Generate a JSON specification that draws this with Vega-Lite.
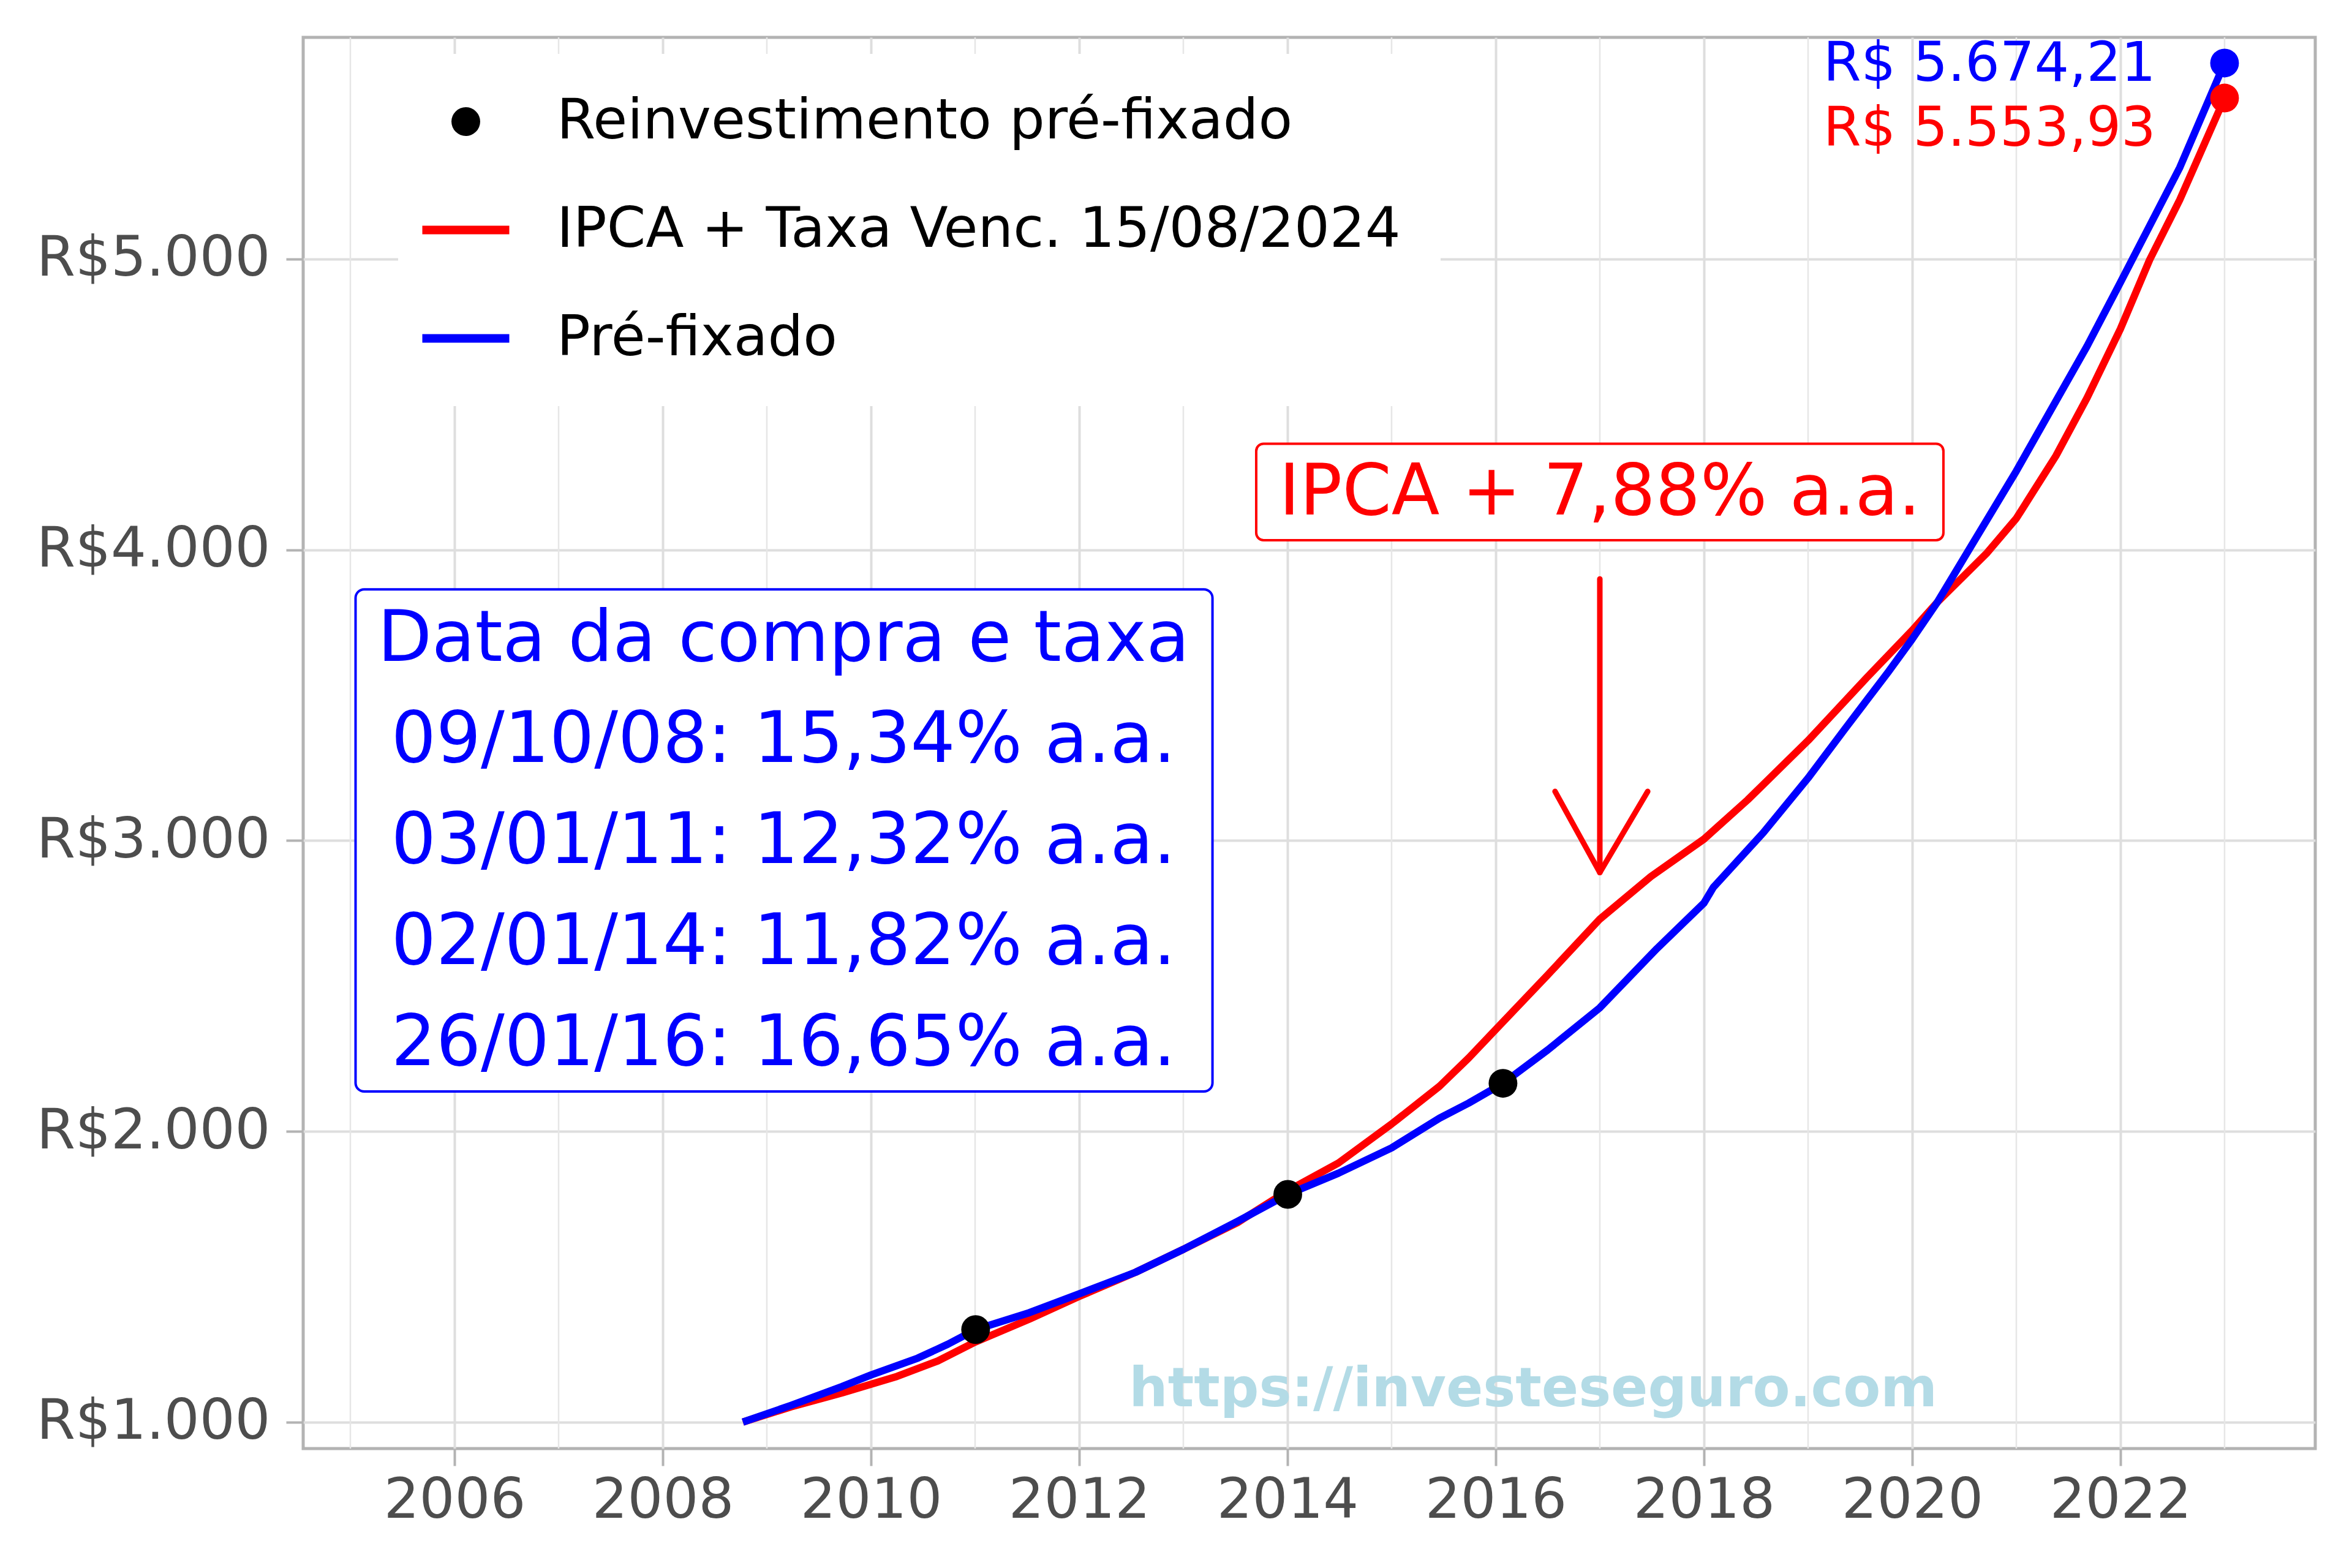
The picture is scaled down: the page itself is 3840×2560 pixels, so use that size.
{
  "$schema": "https://vega.github.io/schema/vega-lite/v6.json",
  "width": 3285,
  "height": 2304,
  "autosize": {"type": "none"},
  "padding": {"left": 495, "top": 61, "right": 60, "bottom": 195},
  "background": "white",
  "config": {
    "view": {"stroke": "#b3b3b3", "strokeWidth": 5},
    "font": "DejaVu Sans",
    "axis": {
      "labelFont": "DejaVu Sans",
      "labelFontSize": 91,
      "labelColor": "#4d4d4d",
      "labelLimit": 0,
      "tickColor": "#b3b3b3",
      "tickWidth": 4,
      "tickSize": 28,
      "labelPadding": 26,
      "gridColor": "#dedede",
      "gridWidth": 4,
      "domain": false
    }
  },
  "datasets": {
    "series": [
      {"serie": "Pré-fixado", "ano": 2008.77, "valor": 1000},
      {"serie": "Pré-fixado", "ano": 2009.23, "valor": 1057},
      {"serie": "Pré-fixado", "ano": 2009.72, "valor": 1122},
      {"serie": "Pré-fixado", "ano": 2010.0, "valor": 1162},
      {"serie": "Pré-fixado", "ano": 2010.45, "valor": 1220},
      {"serie": "Pré-fixado", "ano": 2010.74, "valor": 1268},
      {"serie": "Pré-fixado", "ano": 2011.005, "valor": 1318},
      {"serie": "Pré-fixado", "ano": 2011.52, "valor": 1376},
      {"serie": "Pré-fixado", "ano": 2012.0, "valor": 1441},
      {"serie": "Pré-fixado", "ano": 2012.54, "valor": 1515},
      {"serie": "Pré-fixado", "ano": 2013.0, "valor": 1594},
      {"serie": "Pré-fixado", "ano": 2013.52, "valor": 1690},
      {"serie": "Pré-fixado", "ano": 2014.003, "valor": 1783},
      {"serie": "Pré-fixado", "ano": 2014.49, "valor": 1856},
      {"serie": "Pré-fixado", "ano": 2015.0, "valor": 1943},
      {"serie": "Pré-fixado", "ano": 2015.46, "valor": 2045},
      {"serie": "Pré-fixado", "ano": 2015.74, "valor": 2097},
      {"serie": "Pré-fixado", "ano": 2016.07, "valor": 2165},
      {"serie": "Pré-fixado", "ano": 2016.5, "valor": 2280},
      {"serie": "Pré-fixado", "ano": 2017.0, "valor": 2425},
      {"serie": "Pré-fixado", "ano": 2017.55, "valor": 2629},
      {"serie": "Pré-fixado", "ano": 2018.0, "valor": 2785},
      {"serie": "Pré-fixado", "ano": 2018.09, "valor": 2839},
      {"serie": "Pré-fixado", "ano": 2018.57, "valor": 3027},
      {"serie": "Pré-fixado", "ano": 2019.0, "valor": 3215},
      {"serie": "Pré-fixado", "ano": 2019.35, "valor": 3382},
      {"serie": "Pré-fixado", "ano": 2019.77, "valor": 3580},
      {"serie": "Pré-fixado", "ano": 2020.0, "valor": 3693},
      {"serie": "Pré-fixado", "ano": 2020.24, "valor": 3819},
      {"serie": "Pré-fixado", "ano": 2021.0, "valor": 4271},
      {"serie": "Pré-fixado", "ano": 2021.68, "valor": 4701},
      {"serie": "Pré-fixado", "ano": 2022.0, "valor": 4920},
      {"serie": "Pré-fixado", "ano": 2022.57, "valor": 5315},
      {"serie": "Pré-fixado", "ano": 2023.0, "valor": 5674.21},
      {"serie": "IPCA + Taxa Venc. 15/08/2024", "ano": 2008.77, "valor": 1000},
      {"serie": "IPCA + Taxa Venc. 15/08/2024", "ano": 2009.23, "valor": 1052},
      {"serie": "IPCA + Taxa Venc. 15/08/2024", "ano": 2009.72, "valor": 1100},
      {"serie": "IPCA + Taxa Venc. 15/08/2024", "ano": 2010.25, "valor": 1157},
      {"serie": "IPCA + Taxa Venc. 15/08/2024", "ano": 2010.64, "valor": 1210},
      {"serie": "IPCA + Taxa Venc. 15/08/2024", "ano": 2011.0, "valor": 1275},
      {"serie": "IPCA + Taxa Venc. 15/08/2024", "ano": 2011.52, "valor": 1354},
      {"serie": "IPCA + Taxa Venc. 15/08/2024", "ano": 2012.0, "valor": 1432},
      {"serie": "IPCA + Taxa Venc. 15/08/2024", "ano": 2012.54, "valor": 1515},
      {"serie": "IPCA + Taxa Venc. 15/08/2024", "ano": 2013.0, "valor": 1594},
      {"serie": "IPCA + Taxa Venc. 15/08/2024", "ano": 2013.52, "valor": 1686},
      {"serie": "IPCA + Taxa Venc. 15/08/2024", "ano": 2014.0, "valor": 1795},
      {"serie": "IPCA + Taxa Venc. 15/08/2024", "ano": 2014.49, "valor": 1891},
      {"serie": "IPCA + Taxa Venc. 15/08/2024", "ano": 2015.0, "valor": 2025},
      {"serie": "IPCA + Taxa Venc. 15/08/2024", "ano": 2015.46, "valor": 2155},
      {"serie": "IPCA + Taxa Venc. 15/08/2024", "ano": 2015.74, "valor": 2252},
      {"serie": "IPCA + Taxa Venc. 15/08/2024", "ano": 2016.0, "valor": 2350},
      {"serie": "IPCA + Taxa Venc. 15/08/2024", "ano": 2016.5, "valor": 2538},
      {"serie": "IPCA + Taxa Venc. 15/08/2024", "ano": 2017.0, "valor": 2730},
      {"serie": "IPCA + Taxa Venc. 15/08/2024", "ano": 2017.49, "valor": 2876},
      {"serie": "IPCA + Taxa Venc. 15/08/2024", "ano": 2018.0, "valor": 3005},
      {"serie": "IPCA + Taxa Venc. 15/08/2024", "ano": 2018.42, "valor": 3140},
      {"serie": "IPCA + Taxa Venc. 15/08/2024", "ano": 2019.0, "valor": 3344},
      {"serie": "IPCA + Taxa Venc. 15/08/2024", "ano": 2019.56, "valor": 3559},
      {"serie": "IPCA + Taxa Venc. 15/08/2024", "ano": 2020.0, "valor": 3723},
      {"serie": "IPCA + Taxa Venc. 15/08/2024", "ano": 2020.24, "valor": 3819},
      {"serie": "IPCA + Taxa Venc. 15/08/2024", "ano": 2020.72, "valor": 3990},
      {"serie": "IPCA + Taxa Venc. 15/08/2024", "ano": 2021.0, "valor": 4108},
      {"serie": "IPCA + Taxa Venc. 15/08/2024", "ano": 2021.38, "valor": 4323},
      {"serie": "IPCA + Taxa Venc. 15/08/2024", "ano": 2021.68, "valor": 4523},
      {"serie": "IPCA + Taxa Venc. 15/08/2024", "ano": 2022.0, "valor": 4760},
      {"serie": "IPCA + Taxa Venc. 15/08/2024", "ano": 2022.28, "valor": 4997},
      {"serie": "IPCA + Taxa Venc. 15/08/2024", "ano": 2022.57, "valor": 5204},
      {"serie": "IPCA + Taxa Venc. 15/08/2024", "ano": 2023.0, "valor": 5553.93}
    ],
    "reinvest": [
      {"serie": "Reinvestimento pré-fixado", "ano": 2011.005, "valor": 1318},
      {"serie": "Reinvestimento pré-fixado", "ano": 2014.003, "valor": 1783},
      {"serie": "Reinvestimento pré-fixado", "ano": 2016.07, "valor": 2165}
    ],
    "final": [
      {"serie": "IPCA + Taxa Venc. 15/08/2024", "ano": 2023.0, "valor": 5553.93},
      {"serie": "Pré-fixado", "ano": 2023.0, "valor": 5674.21}
    ],
    "rotulos": [
      {"serie": "Pré-fixado", "ano": 2022.34, "valor": 5670, "texto": "R$ 5.674,21"},
      {"serie": "IPCA + Taxa Venc. 15/08/2024", "ano": 2022.34, "valor": 5447, "texto": "R$ 5.553,93"}
    ],
    "menores": [
      {"ano": 2005}, {"ano": 2007}, {"ano": 2009}, {"ano": 2011}, {"ano": 2013},
      {"ano": 2015}, {"ano": 2017}, {"ano": 2019}, {"ano": 2021}, {"ano": 2023}
    ],
    "caixaIpca": [{"ano": 2013.70, "ano2": 2020.30, "valor": 4033, "valor2": 4365}],
    "textoIpca": [{"ano": 2017.0, "valor": 4196, "texto": "IPCA + 7,88% a.a."}],
    "caixaTaxas": [{"ano": 2005.05, "ano2": 2013.28, "valor": 2137, "valor2": 3864}],
    "textoTaxas": [{"ano": 2009.16, "valor": 3692, "texto": "Data da compra e taxa\n09/10/08: 15,34% a.a.\n03/01/11: 12,32% a.a.\n02/01/14: 11,82% a.a.\n26/01/16: 16,65% a.a."}],
    "seta": [
      {"ano": 2017.0, "valor": 3900, "ano2": 2017.0, "valor2": 2890},
      {"ano": 2016.57, "valor": 3169, "ano2": 2017.0, "valor2": 2890},
      {"ano": 2017.46, "valor": 3169, "ano2": 2017.0, "valor2": 2890}
    ],
    "marca": [{"ano": 2016.36, "valor": 1054, "texto": "https://investeseguro.com"}]
  },
  "layer": [
    {
      "data": {"name": "menores"},
      "mark": {"type": "rule", "color": "#e6e6e6", "strokeWidth": 2.5},
      "encoding": {
        "x": {"field": "ano", "type": "quantitative", "scale": {"domain": [2004.547, 2023.871], "nice": false, "zero": false},
              "axis": {"title": null, "labelPadding": 12, "values": [2006, 2008, 2010, 2012, 2014, 2016, 2018, 2020, 2022], "format": "d"}}
      }
    },
    {
      "data": {"name": "series"},
      "transform": [{"filter": "datum.serie === 'IPCA + Taxa Venc. 15/08/2024'"}],
      "mark": {"type": "line", "strokeWidth": 12, "strokeJoin": "round"},
      "encoding": {
        "x": {"field": "ano", "type": "quantitative"},
        "y": {"field": "valor", "type": "quantitative", "scale": {"domain": [908.8, 5762.6], "nice": false, "zero": false},
              "axis": {"title": null, "values": [1000, 2000, 3000, 4000, 5000], "labelExpr": "'R$' + replace(format(datum.value, ','), ',', '.')"}},
        "color": {
          "field": "serie", "type": "nominal",
          "scale": {"domain": ["Reinvestimento pré-fixado", "IPCA + Taxa Venc. 15/08/2024", "Pré-fixado"], "range": ["black", "red", "blue"]},
          "legend": {
            "title": null, "orient": "none", "legendX": 155, "legendY": 27,
            "fillColor": "white", "padding": 65,
            "labelFontSize": 91, "labelFont": "DejaVu Sans", "labelColor": "black", "labelLimit": 0,
            "labelOffset": 103, "symbolSize": 20164, "symbolStrokeWidth": 14, "rowPadding": 85,
            "encode": {
              "symbols": {
                "update": {
                  "shape": {"signal": "datum.value === 'Reinvestimento pré-fixado' ? 'circle' : 'stroke'"},
                  "size": {"signal": "datum.value === 'Reinvestimento pré-fixado' ? 2200 : 20164"},
                  "fill": {"signal": "datum.value === 'Reinvestimento pré-fixado' ? 'black' : 'transparent'"},
                  "stroke": {"signal": "datum.value === 'Reinvestimento pré-fixado' ? 'transparent' : scale('color', datum.value)"},
                  "strokeWidth": {"signal": "datum.value === 'Reinvestimento pré-fixado' ? 0 : 14"},
                  "opacity": {"value": 1}
                }
              }
            }
          }
        }
      }
    },
    {
      "data": {"name": "series"},
      "transform": [{"filter": "datum.serie === 'Pré-fixado'"}],
      "mark": {"type": "line", "strokeWidth": 12, "strokeJoin": "round"},
      "encoding": {
        "x": {"field": "ano", "type": "quantitative"},
        "y": {"field": "valor", "type": "quantitative"},
        "color": {"field": "serie", "type": "nominal"}
      }
    },
    {
      "data": {"name": "reinvest"},
      "mark": {"type": "point", "filled": true, "size": 2200, "opacity": 1},
      "encoding": {
        "x": {"field": "ano", "type": "quantitative"},
        "y": {"field": "valor", "type": "quantitative"},
        "color": {"field": "serie", "type": "nominal"}
      }
    },
    {
      "data": {"name": "final"},
      "mark": {"type": "point", "filled": true, "size": 2200, "opacity": 1},
      "encoding": {
        "x": {"field": "ano", "type": "quantitative"},
        "y": {"field": "valor", "type": "quantitative"},
        "color": {"field": "serie", "type": "nominal"}
      }
    },
    {
      "data": {"name": "rotulos"},
      "mark": {"type": "text", "align": "right", "baseline": "middle", "fontSize": 89, "font": "DejaVu Sans"},
      "encoding": {
        "x": {"field": "ano", "type": "quantitative"},
        "y": {"field": "valor", "type": "quantitative"},
        "text": {"field": "texto"},
        "color": {"field": "serie", "type": "nominal"}
      }
    },
    {
      "data": {"name": "caixaIpca"},
      "mark": {"type": "rect", "fill": "white", "stroke": "red", "strokeWidth": 4, "cornerRadius": 12},
      "encoding": {
        "x": {"field": "ano", "type": "quantitative"},
        "x2": {"field": "ano2"},
        "y": {"field": "valor", "type": "quantitative"},
        "y2": {"field": "valor2"}
      }
    },
    {
      "data": {"name": "textoIpca"},
      "mark": {"type": "text", "align": "center", "baseline": "middle", "fontSize": 115, "font": "DejaVu Sans", "color": "red"},
      "encoding": {
        "x": {"field": "ano", "type": "quantitative"},
        "y": {"field": "valor", "type": "quantitative"},
        "text": {"field": "texto"}
      }
    },
    {
      "data": {"name": "caixaTaxas"},
      "mark": {"type": "rect", "fill": "white", "stroke": "blue", "strokeWidth": 4, "cornerRadius": 14},
      "encoding": {
        "x": {"field": "ano", "type": "quantitative"},
        "x2": {"field": "ano2"},
        "y": {"field": "valor", "type": "quantitative"},
        "y2": {"field": "valor2"}
      }
    },
    {
      "data": {"name": "textoTaxas"},
      "mark": {"type": "text", "align": "center", "baseline": "middle", "fontSize": 115, "font": "DejaVu Sans", "color": "blue", "lineBreak": "\n", "lineHeight": 165},
      "encoding": {
        "x": {"field": "ano", "type": "quantitative"},
        "y": {"field": "valor", "type": "quantitative"},
        "text": {"field": "texto"}
      }
    },
    {
      "data": {"name": "seta"},
      "mark": {"type": "rule", "color": "red", "strokeWidth": 9, "strokeCap": "round"},
      "encoding": {
        "x": {"field": "ano", "type": "quantitative"},
        "x2": {"field": "ano2"},
        "y": {"field": "valor", "type": "quantitative"},
        "y2": {"field": "valor2"}
      }
    },
    {
      "data": {"name": "marca"},
      "mark": {"type": "text", "align": "center", "baseline": "alphabetic", "fontSize": 89, "font": "DejaVu Sans", "fontWeight": "bold", "color": "#b3dbe6"},
      "encoding": {
        "x": {"field": "ano", "type": "quantitative"},
        "y": {"field": "valor", "type": "quantitative"},
        "text": {"field": "texto"}
      }
    }
  ]
}
